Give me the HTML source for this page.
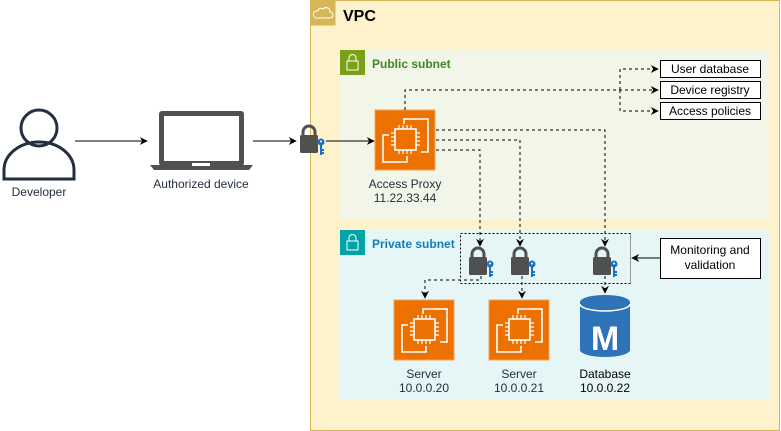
<!DOCTYPE html>
<html><head><meta charset="utf-8"><style>
html,body{margin:0;padding:0;background:#fff;}
svg{display:block;font-family:"Liberation Sans",Arial,sans-serif;}
</style></head><body>
<svg width="781" height="431" viewBox="0 0 781 431" xmlns="http://www.w3.org/2000/svg">
<defs>
<marker id="a" viewBox="0 0 10 10" refX="9" refY="5" markerWidth="8" markerHeight="8" orient="auto" markerUnits="userSpaceOnUse"><path d="M0,0 L10,5 L0,10 L3,5 Z" fill="#000"/></marker>
<g id="ec2">
<rect x="0" y="0" width="60" height="60" fill="#ed7100" stroke="#f5a356" stroke-width="1"/>
<path d="M29,14 V9 H53 V42 H46" fill="none" stroke="#fff" stroke-width="1.6"/>
<path d="M14,25 H8 V52 H32 V46" fill="none" stroke="#fff" stroke-width="1.6"/>
<rect x="20" y="19" width="21" height="21" fill="none" stroke="#fff" stroke-width="1.6"/>
<path d="M24,19v-4M28,19v-4M32,19v-4M36,19v-4M24,40v4M28,40v4M32,40v4M36,40v4M20,23h-4M20,27h-4M20,31h-4M20,35h-4M41,23h4M41,27h4M41,31h4M41,35h4" stroke="#fff" stroke-width="1.2"/>
</g>
<g id="lock">
<path d="M3,11 V7 A6,6 0 0 1 15,7 V11" fill="none" stroke="#505050" stroke-width="3"/>
<rect x="0" y="10" width="18" height="18" rx="1.5" fill="#505050"/>
<circle cx="21" cy="17" r="3.5" fill="#1a72c8"/>
<path d="M21,19 V30 M21,25 H24 M21,28 H24" stroke="#1a72c8" stroke-width="2"/>
<circle cx="21" cy="16.5" r="1" fill="#fff"/>
</g>
</defs>

<rect x="310.5" y="0.5" width="469" height="430" fill="#fef2cc" stroke="#d6b656"/>
<rect x="310.5" y="0.5" width="25" height="25" fill="#d6b656"/>
<path d="M316,18 h14 a3,3 0 0 0 0,-6 a4,4 0 0 0 -7,-3 a3,3 0 0 0 -5,2 a3,3 0 0 0 -2,7z" fill="none" stroke="#fff" stroke-width="1"/>
<text x="343" y="21" font-size="16" font-weight="bold">VPC</text>

<rect x="340" y="50" width="430" height="170" fill="#f2f6e8"/>
<rect x="340" y="50" width="25" height="25" fill="#7aa116"/>
<rect x="347" y="61" width="11" height="9" fill="none" stroke="#fff"/>
<path d="M349,61 v-3 a3,3 0 0 1 7,0 v3" fill="none" stroke="#fff"/>
<text x="372" y="68" font-size="12" font-weight="bold" fill="#3f8624">Public subnet</text>

<rect x="340" y="230" width="430" height="170" fill="#e6f6f7"/>
<rect x="340" y="230" width="25" height="25" fill="#00a4a6"/>
<rect x="347" y="241" width="11" height="9" fill="none" stroke="#fff"/>
<path d="M349,241 v-3 a3,3 0 0 1 7,0 v3" fill="none" stroke="#fff"/>
<text x="372" y="248" font-size="12" font-weight="bold" fill="#147eba">Private subnet</text>

<circle cx="39" cy="128" r="18" fill="none" stroke="#232f3e" stroke-width="3"/>
<path d="M4,179 V170 A35,28 0 0 1 74,170 V179 Z" fill="none" stroke="#232f3e" stroke-width="3"/>
<text x="39" y="196" font-size="12" text-anchor="middle" fill="#232f3e">Developer</text>
<line x1="75" y1="141" x2="147" y2="141" stroke="#000" marker-end="url(#a)"/>

<rect x="159" y="111" width="85" height="55" rx="3" fill="#505050"/>
<rect x="164" y="116" width="75" height="45" fill="#fff"/>
<path d="M150,165 H253 L249,170 H154 Z" fill="#505050"/>
<rect x="192" y="163" width="18" height="3" fill="#fff"/>
<text x="201" y="188" font-size="12" text-anchor="middle" fill="#232f3e">Authorized device</text>
<line x1="253" y1="141" x2="296" y2="141" stroke="#000" marker-end="url(#a)"/>

<use href="#lock" x="300" y="125"/>
<line x1="326" y1="141" x2="374" y2="141" stroke="#000" marker-end="url(#a)"/>

<use href="#ec2" x="375" y="110"/>
<text x="405" y="188" font-size="12" text-anchor="middle" fill="#232f3e">Access Proxy</text>
<text x="405" y="202" font-size="12" text-anchor="middle" fill="#232f3e">11.22.33.44</text>

<g fill="none" stroke="#000" stroke-dasharray="3,3">
<path d="M405,110 V90 H658" marker-end="url(#a)"/>
<path d="M620,90 V69 H658" marker-end="url(#a)"/>
<path d="M620,90 V111 H658" marker-end="url(#a)"/>
<path d="M436,130 H605 V246" marker-end="url(#a)"/>
<path d="M436,140 H520 V246" marker-end="url(#a)"/>
<path d="M436,150 H480 V246" marker-end="url(#a)"/>
<path d="M481,276 V280 H425 V298" marker-end="url(#a)"/>
<path d="M522,276 V298" marker-end="url(#a)"/>
<path d="M605,276 V293" marker-end="url(#a)"/>
</g>
<g fill="#fff" stroke="#000">
<rect x="660.5" y="60.5" width="100" height="17"/>
<rect x="660.5" y="81.5" width="100" height="17"/>
<rect x="660.5" y="102.5" width="100" height="17"/>
</g>
<g font-size="12" text-anchor="middle">
<text x="710" y="73">User database</text>
<text x="710" y="94">Device registry</text>
<text x="710" y="115">Access policies</text>
</g>

<rect x="460.5" y="233.5" width="170" height="50" fill="none" stroke="#000" stroke-dasharray="2,2"/>
<line x1="630.5" y1="234" x2="630.5" y2="284" stroke="#999"/>
<use href="#lock" x="469" y="247"/>
<use href="#lock" x="511" y="247"/>
<use href="#lock" x="593" y="247"/>

<rect x="660.5" y="238.5" width="100" height="40" fill="#fff" stroke="#000"/>
<text x="710" y="254" font-size="12" text-anchor="middle">Monitoring and</text>
<text x="710" y="269" font-size="12" text-anchor="middle">validation</text>
<line x1="660" y1="258" x2="632" y2="258" stroke="#000" marker-end="url(#a)"/>

<use href="#ec2" x="394" y="300"/>
<use href="#ec2" x="489" y="300"/>
<text x="424" y="378" font-size="12" text-anchor="middle" fill="#232f3e">Server</text>
<text x="424" y="392" font-size="12" text-anchor="middle" fill="#232f3e">10.0.0.20</text>
<text x="519" y="378" font-size="12" text-anchor="middle" fill="#232f3e">Server</text>
<text x="519" y="392" font-size="12" text-anchor="middle" fill="#232f3e">10.0.0.21</text>

<path d="M580,302 V350 A25,7 0 0 0 630,350 V302 Z" fill="#2e73b8"/>
<ellipse cx="605" cy="302" rx="25" ry="7" fill="#2e73b8"/>
<path d="M580,304 A25,7 0 0 0 630,304" fill="none" stroke="#fff" stroke-width="1.5"/>
<text x="605" y="350" font-size="34" font-weight="bold" fill="#fff" text-anchor="middle">M</text>
<text x="605" y="378" font-size="12" text-anchor="middle" fill="#000">Database</text>
<text x="605" y="392" font-size="12" text-anchor="middle" fill="#000">10.0.0.22</text>
</svg>
</body></html>
